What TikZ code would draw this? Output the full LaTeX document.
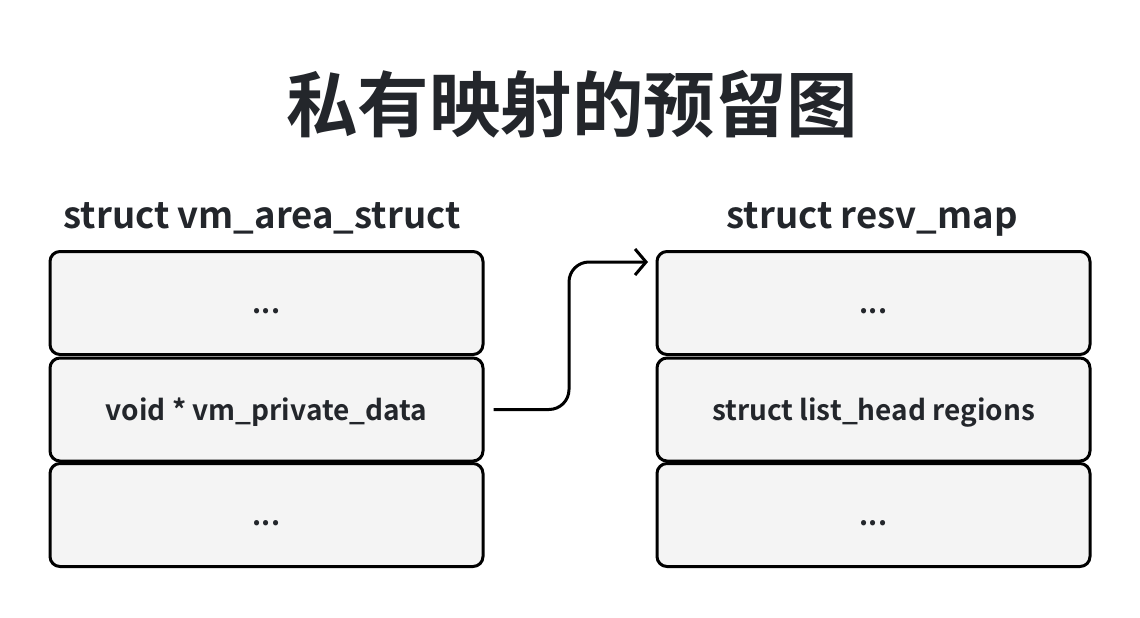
\documentclass[tikz,border=0pt]{standalone}
\usepackage{fontspec}
\setmainfont{Noto Sans CJK SC}[BoldFont={* Bold}]
\newfontfamily\cjk{Noto Sans CJK SC Bold}
\usetikzlibrary{arrows.meta,positioning}
\definecolor{inkdark}{HTML}{23262B}
\definecolor{cellgray}{HTML}{F4F4F4}

\tikzset{
  field/.style={draw=black,line width=3pt,fill=cellgray,rounded corners=10pt,
    minimum width=433pt,minimum height=103pt,inner sep=0pt,
    text height=21pt,text depth=0pt,
    text=inkdark,font=\cjk\fontsize{28}{32}\selectfont},
  header/.style={anchor=base,text=inkdark,font=\cjk\fontsize{36.5}{42}\selectfont},
}

\begin{document}
\begin{tikzpicture}[x=1pt,y=-1pt]
\useasboundingbox[fill=white] (0,0) rectangle (1140,618);
\node[text=inkdark,font=\cjk\fontsize{71.5}{80}\selectfont] (title) at (572,104) {私有映射的预留图};
% left struct
\node[header] (vmahead) at (262,228) {struct vm\_area\_struct};
\node[field] (vmtop) at (266.5,303) {...};
\node[field] (vmpriv) at (266.5,409.5) {void * vm\_private\_data};
\node[field] (vmbot) at (266.5,515) {...};
% right struct
\node[header] (resvhead) at (872,228) {struct resv\_map};
\node[field] (resvtop) at (873.5,303) {...};
\node[field] (resvreg) at (873.5,409.5) {struct list\_head regions};
\node[field] (resvbot) at (873.5,515) {...};
% pointer
\coordinate (ptrstart) at ([xshift=9pt]vmpriv.east);
\coordinate (ptrend) at (648,262);
\draw[line width=3pt,rounded corners=20pt,-{Straight Barb[length=11pt,width=26pt,line width=3pt]}]
  (ptrstart) -- (569,409.5) -- (569,262) -- (ptrend);
\end{tikzpicture}
\end{document}
